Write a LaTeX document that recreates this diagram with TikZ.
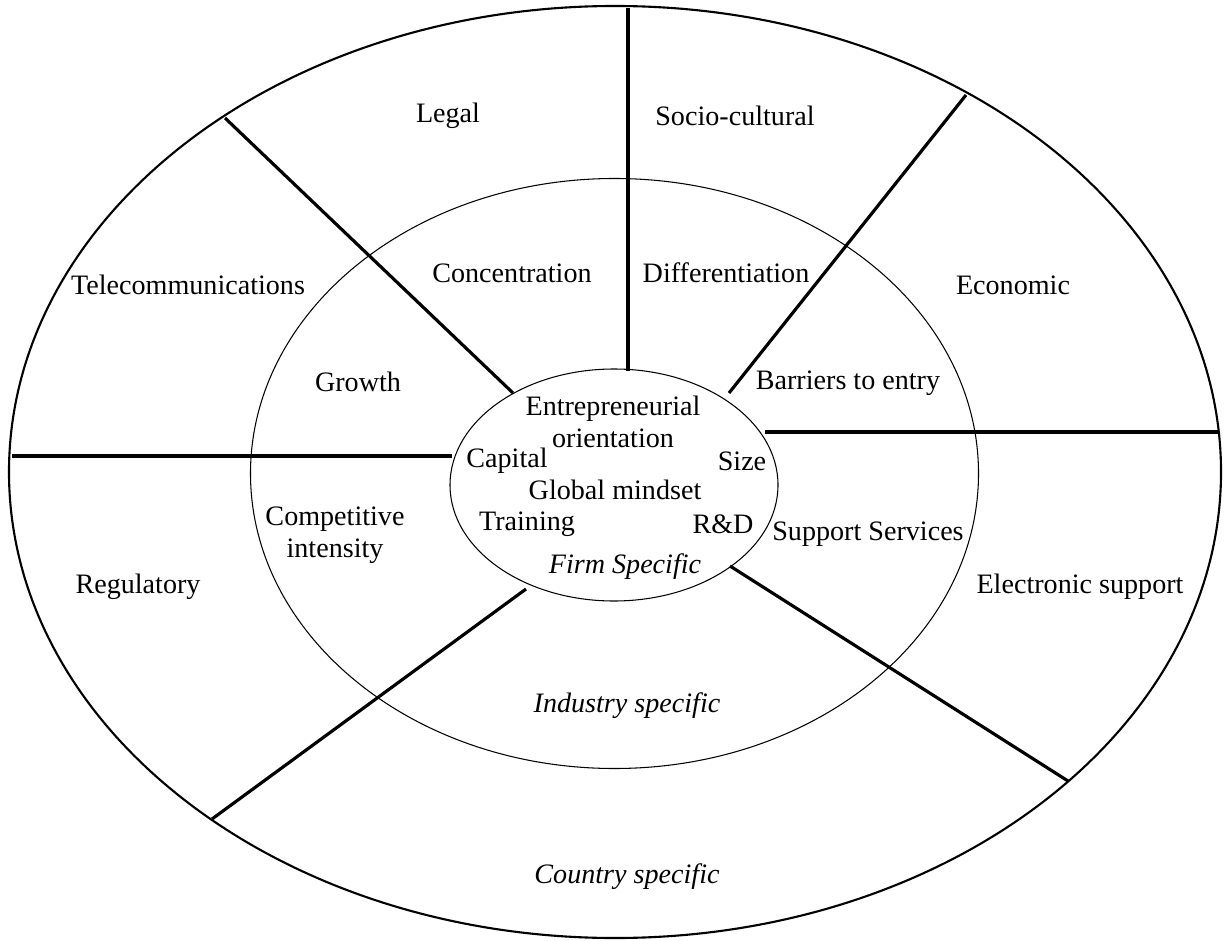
\documentclass[tikz,border=0pt]{standalone}
\usepackage{fontspec}
\setmainfont{Liberation Serif}
\usetikzlibrary{positioning}

\begin{document}
\begin{tikzpicture}[x=0.2mm,y=-0.2mm,
    lbl/.style={font=\fontsize{16}{18}\selectfont, align=center},
    ilbl/.style={align=center, font=\fontsize{16}{18}\selectfont\itshape},
    divider/.style={line width=1.8pt}]
  \useasboundingbox (0,0) rectangle (1227,941);
  % rings
  \draw[line width=1.2pt] (615,472) ellipse [x radius=121.2mm, y radius=93.2mm];
  \draw[line width=0.6pt] (614.5,473.5) ellipse [x radius=72.8mm, y radius=59mm];
  \draw[line width=0.6pt] (614,485) ellipse [x radius=32.8mm, y radius=23.2mm];
  % ends of the dividers
  \coordinate (topo) at (628,8);
  \coordinate (topi) at (628,371);
  \coordinate (nwo) at (225,118);
  \coordinate (nwi) at (513,393);
  \coordinate (neo) at (966,95);
  \coordinate (nei) at (729,393);
  \coordinate (wo) at (12,456);
  \coordinate (wi) at (452,456);
  \coordinate (eo) at (1218,432);
  \coordinate (ei) at (765,432);
  \coordinate (seo) at (1068,781);
  \coordinate (sei) at (730,566);
  \coordinate (swo) at (212,819);
  \coordinate (swi) at (526,589);
  \draw[divider] (topo) -- (topi);
  \draw[divider] (nwo) -- (nwi);
  \draw[divider] (neo) -- (nei);
  \draw[divider] (wo) -- (wi);
  \draw[divider] (eo) -- (ei);
  \draw[divider] (seo) -- (sei);
  \draw[divider] (swo) -- (swi);
  % country specific
  \node[lbl] at (448,116) (legal) {Legal};
  \node[lbl] at (735,116) (socio) {Socio-cultural};
  \node[lbl] at (188,285) (telecom) {Telecommunications};
  \node[lbl] at (1013,285) (econ) {Economic};
  \node[lbl] at (138,587) (regul) {Regulatory};
  \node[lbl] at (1080,587) (esupport) {Electronic support};
  \node[ilbl] at (627,877) (country) {Country specific};
  % industry specific
  \node[lbl] at (512,273) (concent) {Concentration};
  \node[lbl] at (726,273) (diff) {Differentiation};
  \node[lbl] at (358,382) (growth) {Growth};
  \node[lbl] at (848,383) (barriers) {Barriers to entry};
  \node[lbl] at (335,535) (compet) {Competitive\\intensity};
  \node[lbl] at (868,534) (services) {Support Services};
  \node[ilbl] at (627,706) (industry) {Industry specific};
  % firm specific
  \node[lbl] at (613,422) (entor) {Entrepreneurial\\orientation};
  \node[lbl] at (507,461) (capital) {Capital};
  \node[lbl] at (742,461) (size) {Size};
  \node[lbl] at (615,490) (mindset) {Global mindset};
  \node[lbl] at (527,524) (training) {Training};
  \node[lbl] at (723,524) (rd) {R\&D};
  \node[ilbl] at (625,567) (firm) {Firm Specific};
\end{tikzpicture}
\end{document}
